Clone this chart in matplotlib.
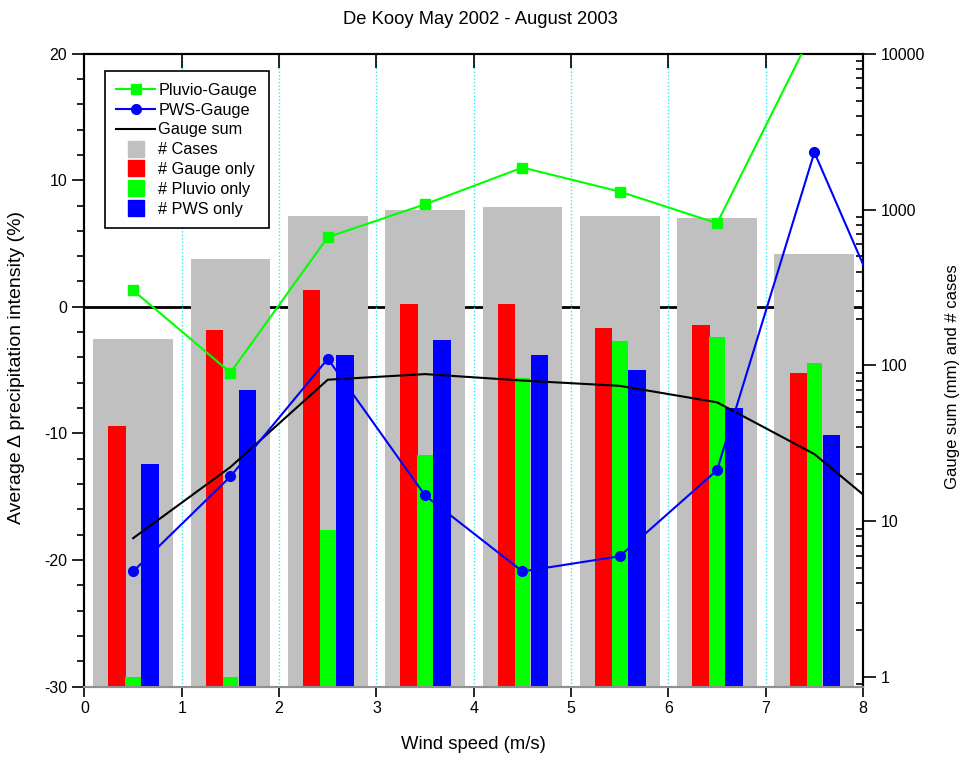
import numpy as np
import matplotlib
matplotlib.use('Agg')
import matplotlib.pyplot as plt
from matplotlib.lines import Line2D

plt.rcParams['font.family'] = ['Liberation Sans', 'DejaVu Sans']

# wind speed bins (m/s), centre of each bin
bins = [0.5, 1.5, 2.5, 3.5, 4.5, 5.5, 6.5, 7.5]
# lines run on to the next bin (8.5), clipped at the axes edge
line_x = [0.5, 1.5, 2.5, 3.5, 4.5, 5.5, 6.5, 7.5, 8.5]

pluvio_gauge = [1.3, -5.2, 5.5, 8.1, 11.0, 9.1, 6.6, 22.0]              # %
pws_gauge = [-20.9, -13.4, -4.1, -14.9, -20.9, -19.7, -12.9, 12.2, -5.5]  # %
gauge_sum = [7.8, 22.3, 81, 88, 80, 74, 58, 27, 8.2]                      # mm

n_cases = [148, 483, 911, 996, 1041, 902, 885, 518]
n_gauge_only = [41, 170, 305, 249, 249, 173, 181, 90]
n_pluvio_only = [1, 1, 8.8, 26.5, 83, 143, 153, 104]
n_pws_only = [23.5, 70, 117, 146, 116, 94, 53, 35.6]

x = np.array(bins)

fig = plt.figure(figsize=(9.6, 7.6), dpi=100)
ax = fig.add_axes([0.088, 0.0965, 0.811, 0.833])
ax2 = ax.twinx()
# top layer for the difference lines (same scales as ax)
ax3 = fig.add_axes(ax.get_position(), sharex=ax, sharey=ax, frameon=False)

# bottom layer: zero line and dotted grid
ax.axhline(0, color='black', lw=2, zorder=1)
for gx in range(1, 8):
    ax.axvline(gx, color='#30e8f8', lw=1, ls=(0, (1, 1.5)), zorder=1)

# bars on the log axis
ax2.set_yscale('log')
ax2.bar(x, n_cases, width=0.82, color='#c0c0c0', zorder=1)
ax2.bar(x - 0.165, n_gauge_only, width=0.18, color='#ff0000', zorder=2)
ax2.bar(x, n_pluvio_only, width=0.16, color='#00ff00', zorder=2)
ax2.bar(x + 0.175, n_pws_only, width=0.18, color='#0000ff', zorder=2)
ax2.plot(line_x, gauge_sum, color='black', lw=1.5, zorder=3)
ax2.set_ylim(10 ** -0.06, 10000)
ax2.set_ylabel('Gauge sum (mm) and # cases', fontsize=12)
ax2.yaxis.set_label_coords(1.105, 0.49)

ax3.plot(bins, pluvio_gauge, color='#00ff00', lw=1.5, marker='s', ms=6.5)
ax3.plot(line_x, pws_gauge, color='#0000ff', lw=1.5, marker='o', ms=7)
ax3.axis('off')

ax.set_xlim(0, 8)
ax.set_ylim(-30, 20)
ax.set_xticks(range(0, 9))
ax.set_yticks([-30, -20, -10, 0, 10, 20])
ax.set_yticks(np.arange(-30, 21, 2), minor=True)
ax.set_xlabel('Wind speed (m/s)', fontsize=13.3)
ax.xaxis.set_label_coords(0.5, -0.078)
ax.set_ylabel('Average \u0394 precipitation intensity (%)', fontsize=14)
ax.yaxis.set_label_coords(-0.076, 0.504)
fig.suptitle('De Kooy May 2002 - August 2003', fontsize=13.2, y=0.986)

ax.tick_params(axis='y', which='major', direction='out', length=9, width=1.2, labelsize=11.5)
ax.tick_params(axis='y', which='minor', direction='out', length=5, width=1.2)
ax.tick_params(axis='x', which='major', direction='out', length=7, width=1.2, labelsize=11.5)
ax.tick_params(axis='x', which='minor', bottom=False)
ax2.tick_params(axis='y', which='major', direction='out', length=9, width=1.2, labelsize=11.5)
ax2.tick_params(axis='y', which='minor', direction='in', length=5, width=1.2)

# top ticks point inwards, drawn by the twin's x axis
ax2.xaxis.set_visible(True)
ax2.tick_params(axis='x', which='major', bottom=False, labelbottom=False, top=True,
                labeltop=False, direction='in', length=10, width=1.2)
ax2.tick_params(axis='x', which='minor', bottom=False, top=False)

for s in ['left', 'top', 'right', 'bottom']:
    ax.spines[s].set_linewidth(1.5)
    ax2.spines[s].set_linewidth(1.5)
ax.spines['bottom'].set_color('#909090')
ax2.spines['bottom'].set_color('#909090')
ax.yaxis.set_major_formatter(matplotlib.ticker.FormatStrFormatter('%d'))
ax2.yaxis.set_major_formatter(matplotlib.ticker.FuncFormatter(lambda v, p: '%d' % round(v)))

handles = [
    Line2D([], [], color='#00ff00', lw=1.5, marker='s', ms=6.5),
    Line2D([], [], color='#0000ff', lw=1.5, marker='o', ms=7),
    Line2D([], [], color='black', lw=1.5),
    Line2D([], [], color='#c0c0c0', ls='none', marker='s', ms=11),
    Line2D([], [], color='#ff0000', ls='none', marker='s', ms=11),
    Line2D([], [], color='#00ff00', ls='none', marker='s', ms=11),
    Line2D([], [], color='#0000ff', ls='none', marker='s', ms=11),
]
labels = ['Pluvio-Gauge', 'PWS-Gauge', 'Gauge sum', '# Cases',
          '# Gauge only', '# Pluvio only', '# PWS only']
leg = ax3.legend(handles, labels, loc='upper left', bbox_to_anchor=(0.026, 0.972),
                 borderaxespad=0, fontsize=11.7, fancybox=False, framealpha=1,
                 edgecolor='black', handlelength=2.4, labelspacing=0.3,
                 borderpad=0.7, handletextpad=0.2)
leg.get_frame().set_linewidth(1.2)

fig.savefig('out.png', dpi=100)
